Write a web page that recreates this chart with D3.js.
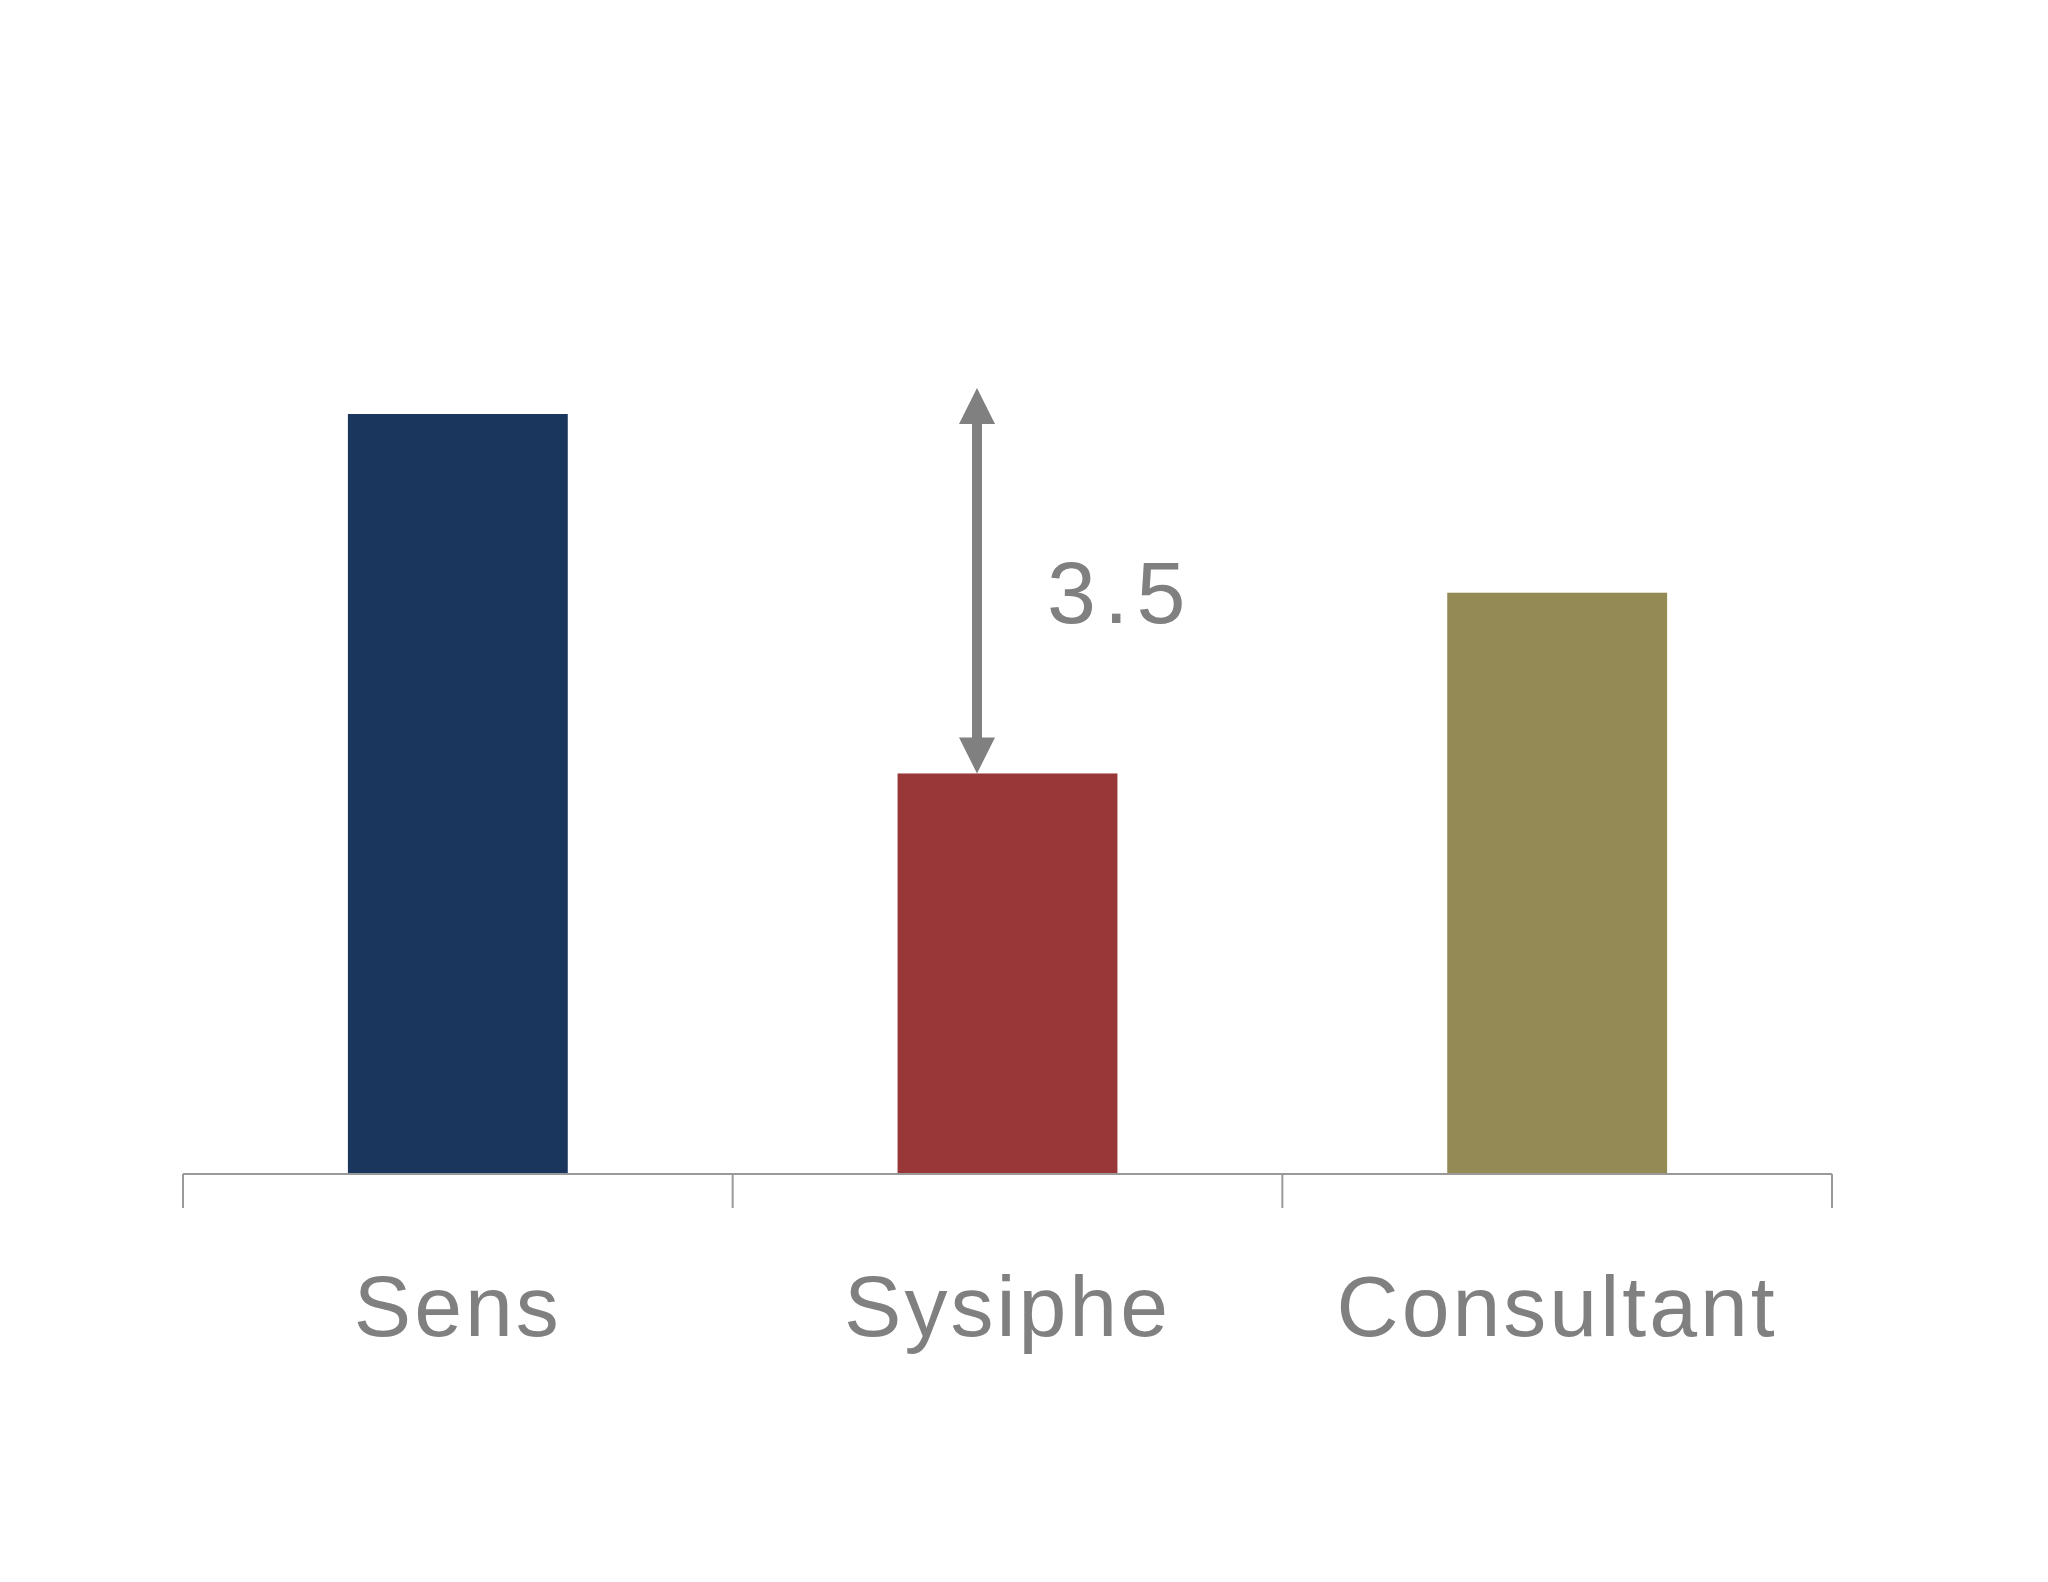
<!DOCTYPE html>
<html><head><meta charset="utf-8">
<script src="https://cdn.jsdelivr.net/npm/d3@7"></script>
<style>body{margin:0;background:#fff}</style>
</head><body>
<svg id="chart" width="2048" height="1582"></svg>
<script>
const categories = ["Sens", "Sysiphe", "Consultant"];
const values = [7.4, 3.9, 5.66];
const colors = ["#1b365d", "#983638", "#948a56"];
const gapLabel = "3.5";

const svg = d3.select("#chart");
const left = 183, right = 1832, base = 1174;

const x = d3.scaleBand().domain(categories).range([left, right]).padding(0);
const y = d3.scaleLinear().domain([0, 10]).range([base, base - 1027]);
const bw = x.bandwidth() * 0.4;

svg.selectAll("rect.bar")
  .data(categories)
  .enter().append("rect")
  .attr("x", d => x(d) + (x.bandwidth() - bw) / 2)
  .attr("y", (d, i) => y(values[i]))
  .attr("width", bw)
  .attr("height", (d, i) => base - y(values[i]))
  .attr("fill", (d, i) => colors[i]);

// axis line with dividers
svg.append("line").attr("x1", left).attr("x2", right).attr("y1", base).attr("y2", base)
  .attr("stroke", "#999").attr("stroke-width", 2);
const edges = categories.map(c => x(c)).concat([right]);
svg.selectAll("line.tick").data(edges).enter().append("line")
  .attr("x1", d => d).attr("x2", d => d).attr("y1", base).attr("y2", base + 34)
  .attr("stroke", "#999").attr("stroke-width", 2);

svg.selectAll("text.cat").data(categories).enter().append("text")
  .attr("x", d => x(d) + x.bandwidth() / 2)
  .attr("y", 1336)
  .attr("text-anchor", "middle")
  .attr("font-family", "Liberation Sans Narrow, Liberation Sans, sans-serif")
  .attr("font-size", 86)
  .attr("letter-spacing", 3)
  .attr("fill", "#808080")
  .text(d => d);

// gap arrow
const ax = 977, yTop = y(values[0]) - 26, yBot = y(values[1]);
const ah = 36, aw = 18;
svg.append("line").attr("x1", ax).attr("x2", ax).attr("y1", yTop + ah - 2).attr("y2", yBot - ah + 2)
  .attr("stroke", "#808080").attr("stroke-width", 10);
svg.append("path").attr("d", `M${ax},${yTop} L${ax - aw},${yTop + ah} L${ax + aw},${yTop + ah}Z`).attr("fill", "#808080");
svg.append("path").attr("d", `M${ax},${yBot} L${ax - aw},${yBot - ah} L${ax + aw},${yBot - ah}Z`).attr("fill", "#808080");
svg.append("text").attr("x", 1047).attr("y", 623)
  .attr("font-family", "Liberation Sans Narrow, Liberation Sans, sans-serif")
  .attr("font-size", 88).attr("letter-spacing", 8).attr("fill", "#808080")
  .text(gapLabel);
</script>
</body></html>
